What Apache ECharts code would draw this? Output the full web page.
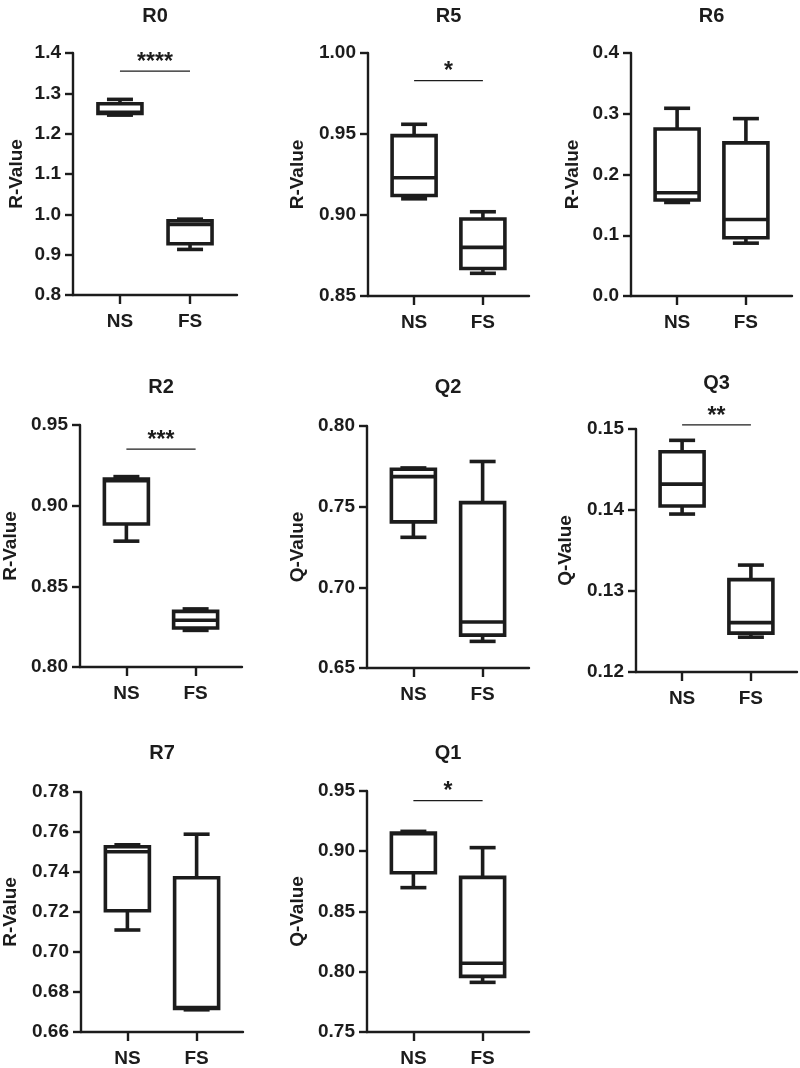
<!DOCTYPE html>
<html>
<head>
<meta charset="utf-8">
<script src="https://cdn.jsdelivr.net/npm/echarts@6/dist/echarts.min.js"></script>
<style>
html,body{margin:0;padding:0;background:#fff;}
#chart{width:800px;height:1068px;}
</style>
</head>
<body>
<div id="chart"></div>
<script>
// ---- data ----
const categories = ['NS', 'FS'];
const panelTitles = ['R0', 'R5', 'R6', 'R2', 'Q2', 'Q3', 'R7', 'Q1'];
const yAxisNames = ['R-Value', 'R-Value', 'R-Value', 'R-Value', 'Q-Value', 'Q-Value', 'R-Value', 'Q-Value'];
const yMins = [0.8, 0.85, 0.0, 0.80, 0.65, 0.12, 0.66, 0.75];
const yMaxs = [1.4, 1.00, 0.4, 0.95, 0.80, 0.15, 0.78, 0.95];
const yIntervals = [0.1, 0.05, 0.1, 0.05, 0.05, 0.01, 0.02, 0.05];
const yDecimals = [1, 2, 1, 2, 2, 2, 2, 2];

// box stats: [min, Q1, median, Q3, max]
const R0_NS = [1.246, 1.250, 1.253, 1.274, 1.285];
const R0_FS = [0.913, 0.927, 0.975, 0.984, 0.988];
const R5_NS = [0.910, 0.912, 0.923, 0.949, 0.956];
const R5_FS = [0.864, 0.867, 0.880, 0.8975, 0.902];
const R6_NS = [0.154, 0.158, 0.170, 0.275, 0.309];
const R6_FS = [0.087, 0.096, 0.126, 0.252, 0.292];
const R2_NS = [0.878, 0.8886, 0.9155, 0.9165, 0.918];
const R2_FS = [0.8227, 0.8242, 0.829, 0.8345, 0.836];
const Q2_NS = [0.731, 0.7406, 0.7686, 0.7732, 0.774];
const Q2_FS = [0.6665, 0.6704, 0.6785, 0.7525, 0.778];
const Q3_NS = [0.1395, 0.1405, 0.1432, 0.1472, 0.1486];
const Q3_FS = [0.1243, 0.1248, 0.1261, 0.1314, 0.1332];
const R7_NS = [0.711, 0.7206, 0.7501, 0.7526, 0.7536];
const R7_FS = [0.6711, 0.6718, 0.6722, 0.7371, 0.7589];
const Q1_NS = [0.8698, 0.8821, 0.9145, 0.9152, 0.9165];
const Q1_FS = [0.7912, 0.7962, 0.8071, 0.8783, 0.903];

const sigLabels = ['****', '*', '', '***', '', '**', '', '*'];
const sigValues = [1.355, 0.983, null, 0.935, null, 0.1505, null, 0.942];

// ---- layout (pixels) ----
const panelStats = [
  [R0_NS, R0_FS], [R5_NS, R5_FS], [R6_NS, R6_FS],
  [R2_NS, R2_FS], [Q2_NS, Q2_FS], [Q3_NS, Q3_FS],
  [R7_NS, R7_FS], [Q1_NS, Q1_FS]
];
const layouts = [
  {left: 73,  top: 53,  width: 164, height: 242, titleY: 16, nameGap: 47},
  {left: 368, top: 53,  width: 161, height: 243, titleY: 16, nameGap: 61},
  {left: 631, top: 53,  width: 161, height: 243, titleY: 16, nameGap: 49},
  {left: 80,  top: 425, width: 162, height: 242, titleY: 387, nameGap: 60},
  {left: 367, top: 426, width: 162, height: 242, titleY: 387, nameGap: 60},
  {left: 636, top: 429, width: 161, height: 243, titleY: 383, nameGap: 61},
  {left: 81,  top: 792, width: 162, height: 242, titleY: 753, nameGap: 61},
  {left: 367, top: 791, width: 162, height: 242, titleY: 753, nameGap: 60}
];

const FONT = '"Liberation Sans", Arial, Helvetica, sans-serif';
const INK = '#1c1c1c';
const BOX_W = 44, CAP_W = 26, BOX_LW = 3.6;

function renderBox(params, api) {
  const x = api.value(0);
  const pMin = api.coord([x, api.value(1)]);
  const pQ1 = api.coord([x, api.value(2)]);
  const pMed = api.coord([x, api.value(3)]);
  const pQ3 = api.coord([x, api.value(4)]);
  const pMax = api.coord([x, api.value(5)]);
  const cx = pMin[0];
  const hw = BOX_W / 2, cw = CAP_W / 2;
  const ls = {stroke: INK, lineWidth: BOX_LW, fill: null};
  const line = (x1, y1, x2, y2) => ({type: 'line', shape: {x1, y1, x2, y2}, style: ls});
  return {
    type: 'group',
    children: [
      line(cx, pMax[1], cx, pQ3[1]),
      line(cx, pQ1[1], cx, pMin[1]),
      line(cx - cw, pMax[1], cx + cw, pMax[1]),
      line(cx - cw, pMin[1], cx + cw, pMin[1]),
      {type: 'rect', shape: {x: cx - hw, y: pQ3[1], width: 2 * hw, height: pQ1[1] - pQ3[1]},
        style: {stroke: INK, lineWidth: BOX_LW, fill: '#fff'}},
      line(cx - hw, pMed[1], cx + hw, pMed[1])
    ]
  };
}

function renderSig(params, api) {
  const y = api.value(2);
  const a = api.coord([api.value(0), y]);
  const b = api.coord([api.value(1), y]);
  return {
    type: 'group',
    children: [
      {type: 'line', shape: {x1: a[0], y1: a[1], x2: b[0], y2: b[1]}, style: {stroke: INK, lineWidth: 1.3}},
      {type: 'text', x: (a[0] + b[0]) / 2, y: a[1] + 3,
        style: {text: api.value(3), fill: INK, font: 'bold 23px ' + FONT, align: 'center', verticalAlign: 'bottom'}}
    ]
  };
}

const grids = [], xAxes = [], yAxes = [], series = [], graphics = [];
panelTitles.forEach((t, i) => {
  const L = layouts[i];
  grids.push({left: L.left, top: L.top, width: L.width, height: L.height, containLabel: false});
  xAxes.push({
    type: 'value', gridIndex: i, min: -0.67, max: 1.67,
    splitLine: {show: false},
    axisLine: {show: true, onZero: false, lineStyle: {color: INK, width: 2.4}},
    axisTick: {show: true, customValues: [0, 1], length: 9, lineStyle: {color: INK, width: 2.4}},
    axisLabel: {show: true, customValues: [0, 1], margin: 17,
      formatter: v => categories[Math.round(v)] || '',
      color: INK, fontFamily: FONT, fontWeight: 'bold', fontSize: 19}
  });
  yAxes.push({
    type: 'value', gridIndex: i, min: yMins[i], max: yMaxs[i], interval: yIntervals[i],
    name: yAxisNames[i], nameLocation: 'middle', nameGap: L.nameGap, nameRotate: 90,
    nameTextStyle: {color: INK, fontFamily: FONT, fontWeight: 'bold', fontSize: 19},
    splitLine: {show: false},
    axisLine: {show: true, onZero: false, lineStyle: {color: INK, width: 2.4}},
    axisTick: {show: true, length: 8, lineStyle: {color: INK, width: 2.4}},
    axisLabel: {margin: 12, color: INK, fontFamily: FONT, fontWeight: 'bold', fontSize: 19,
      formatter: v => v.toFixed(yDecimals[i])}
  });
  const stats = panelStats[i];
  series.push({
    type: 'custom', xAxisIndex: i, yAxisIndex: i, renderItem: renderBox, clip: false,
    data: stats.map((s, k) => [k].concat(s)), silent: true
  });
  if (sigLabels[i]) {
    series.push({
      type: 'custom', xAxisIndex: i, yAxisIndex: i, renderItem: renderSig, clip: false,
      data: [[0, 1, sigValues[i], sigLabels[i]]], silent: true
    });
  }
  graphics.push({
    type: 'text', x: L.left + L.width / 2, y: L.titleY,
    style: {text: t, fill: INK, font: 'bold 20px ' + FONT, align: 'center', verticalAlign: 'middle'}
  });
});

const chart = echarts.init(document.getElementById('chart'), null, {renderer: 'canvas'});
chart.setOption({
  backgroundColor: '#fff',
  animation: false,
  grid: grids,
  xAxis: xAxes,
  yAxis: yAxes,
  series: series,
  graphic: graphics
});
</script>
</body>
</html>
